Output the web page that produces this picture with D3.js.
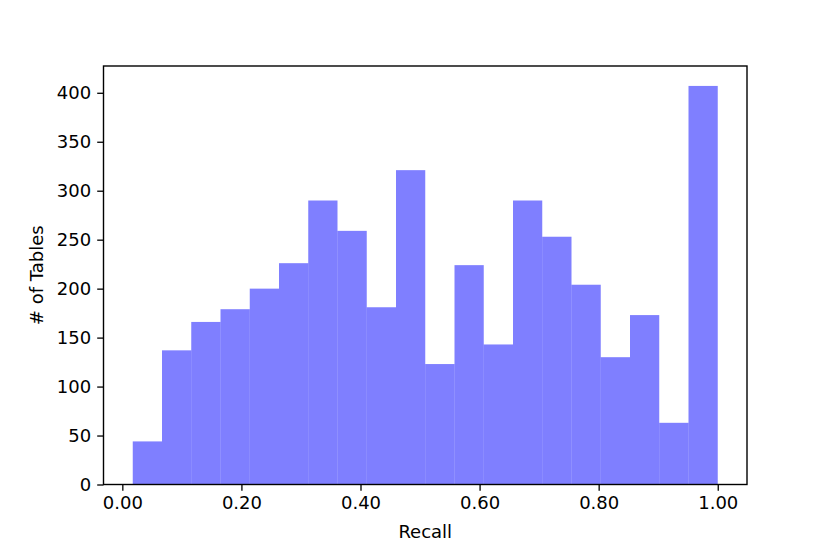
<!DOCTYPE html>
<html lang="en">
<head>
    <meta charset="utf-8">
    <title>Recall histogram</title>
    <script src="https://cdn.jsdelivr.net/npm/d3@7"></script>
    <style>
        body { margin: 0; background: #fff; }
        svg text { font-family: "DejaVu Sans", sans-serif; fill: #000; }
    </style>
</head>
<body>
<div id="vis"></div>
<script>

    // histogram of recall values, 20 equal bins from binStart up to 1.0
    var binStart = 0.0175;
    var binEnd = 1.0;
    var counts = [44, 137, 166, 179, 200, 226, 290, 259, 181, 321,
                  123, 224, 143, 290, 253, 204, 130, 173, 63, 407];
    var xTicks = [0, 0.2, 0.4, 0.6, 0.8, 1.0];
    var yTicks = [0, 50, 100, 150, 200, 250, 300, 350, 400];

    var width = 830, height = 554;
    // plot box (note: "top" is a reserved window property, so use other names)
    var plotL = 103.5, plotR = 747, plotT = 66, plotB = 484.5;

    var svg = d3.select("#vis").append("svg")
        .attr("width", width)
        .attr("height", height);

    var binW = (binEnd - binStart) / counts.length;
    var bins = counts.map(function (c, i) {
        return { x0: binStart + i * binW, x1: binStart + (i + 1) * binW, n: c };
    });

    // matplotlib style 5% margins
    var pad = 0.05 * (binEnd - binStart);
    var x = d3.scaleLinear()
        .domain([binStart - pad, binEnd + pad])
        .range([plotL, plotR]);

    var y = d3.scaleLinear()
        .domain([0, d3.max(counts) * 1.05])
        .range([plotB, plotT]);

    svg.append("g")
        .attr("class", "bars")
        .selectAll("rect")
        .data(bins)
        .enter().append("rect")
        .attr("x", function (d) { return x(d.x0); })
        .attr("y", function (d) { return y(d.n); })
        .attr("width", function (d) { return x(d.x1) - x(d.x0); })
        .attr("height", function (d) { return y(0) - y(d.n); })
        .attr("fill", "blue")
        .attr("fill-opacity", 0.5);

    // axes
    var xAxis = d3.axisBottom(x)
        .tickValues(xTicks)
        .tickFormat(d3.format(".2f"))
        .tickSize(6.3)
        .tickPadding(5)
        .tickSizeOuter(0);

    var yAxis = d3.axisLeft(y)
        .tickValues(yTicks)
        .tickFormat(d3.format("d"))
        .tickSize(6.3)
        .tickPadding(6)
        .tickSizeOuter(0);

    var gx = svg.append("g")
        .attr("transform", "translate(0," + plotB + ")")
        .call(xAxis);

    var gy = svg.append("g")
        .attr("transform", "translate(" + plotL + ",0)")
        .call(yAxis);

    [gx, gy].forEach(function (g) {
        g.attr("font-family", null).attr("font-size", null);
        g.select(".domain").remove();
        g.selectAll(".tick line").attr("stroke", "#000").attr("stroke-width", 1.3);
        g.selectAll(".tick text")
            .attr("font-size", 18)
            .attr("fill", "#000");
    });

    // frame
    svg.append("rect")
        .attr("x", plotL)
        .attr("y", plotT)
        .attr("width", plotR - plotL)
        .attr("height", plotB - plotT)
        .attr("fill", "none")
        .attr("stroke", "#000")
        .attr("stroke-width", 1.4);

    svg.append("text")
        .attr("x", (plotL + plotR) / 2)
        .attr("y", 538)
        .attr("text-anchor", "middle")
        .attr("font-size", 18)
        .text("Recall");

    svg.append("text")
        .attr("transform", "translate(43.3," + (plotT + plotB) / 2 + ") rotate(-90)")
        .attr("text-anchor", "middle")
        .attr("font-size", 18)
        .text("# of Tables");

</script>
</body>
</html>
